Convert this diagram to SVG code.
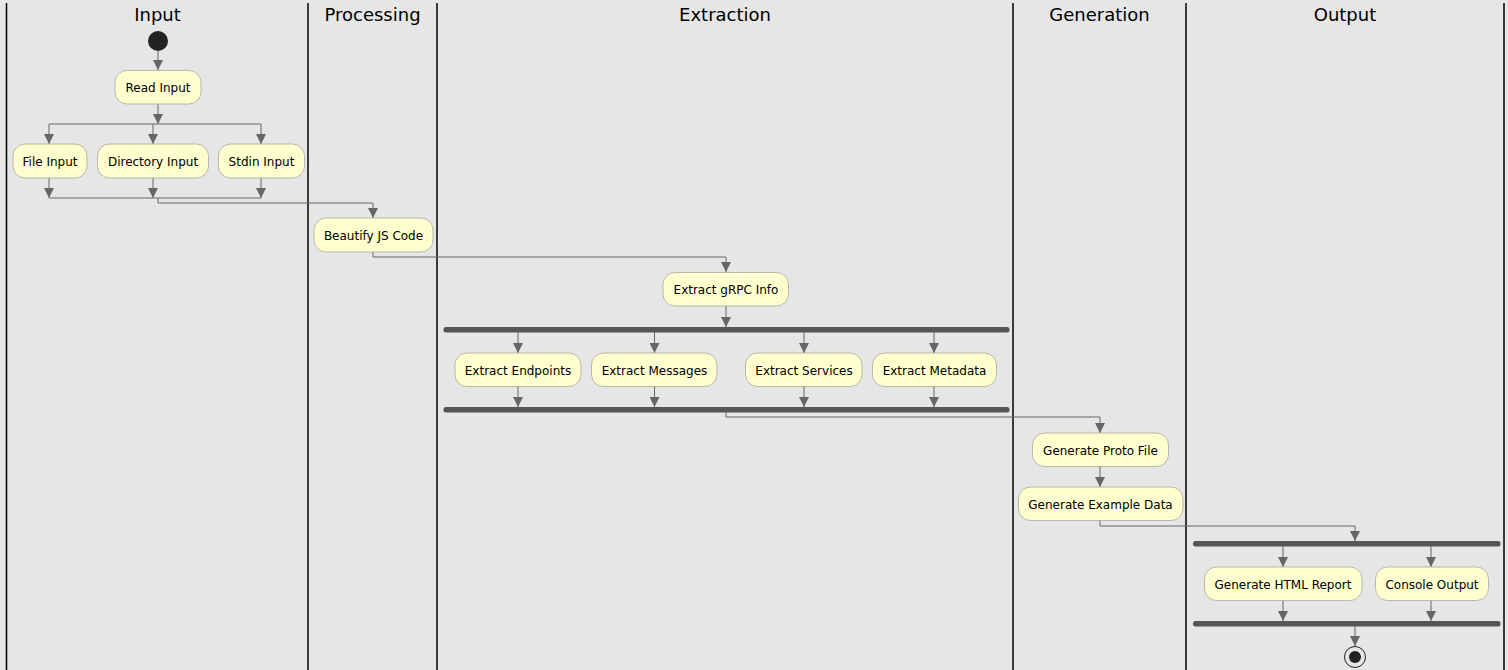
<svg xmlns="http://www.w3.org/2000/svg" width="1508" height="670" viewBox="0 0 1508 670">
<defs>
<style>
.lane{stroke:#000;stroke-width:1.5;fill:none}
.title{font-family:"DejaVu Sans",sans-serif;font-size:18px;fill:#000;text-anchor:middle}
.box{fill:#FEFECE;stroke:#A8A8A0;stroke-width:0.8}
.lbl{font-family:"DejaVu Sans",sans-serif;font-size:12px;fill:#000;text-anchor:middle}
.edge{stroke:#666;stroke-width:1;fill:none}
.bar{fill:#555}
</style>
<marker id="ah" viewBox="0 0 10 10" refX="10" refY="5" markerWidth="10" markerHeight="10" markerUnits="userSpaceOnUse" orient="auto">
<path d="M0,0 L10,5 L0,10 Z" fill="#666"/>
</marker>
</defs>
<rect width="1508" height="670" fill="#E6E6E6"/>
<g id="lanes">
<line class="lane" x1="6.5" y1="3" x2="6.5" y2="670"/>
<line class="lane" x1="308" y1="3" x2="308" y2="670"/>
<line class="lane" x1="437" y1="3" x2="437" y2="670"/>
<line class="lane" x1="1013" y1="3" x2="1013" y2="670"/>
<line class="lane" x1="1186" y1="3" x2="1186" y2="670"/>
<line class="lane" x1="1504" y1="3" x2="1504" y2="670"/>
<text class="title" x="157.5" y="21">Input</text>
<text class="title" x="372.5" y="21">Processing</text>
<text class="title" x="725" y="21">Extraction</text>
<text class="title" x="1099.5" y="21">Generation</text>
<text class="title" x="1345" y="21">Output</text>
</g>
<g id="connectors">
<path class="edge" marker-end="url(#ah)" d="M158,51 V70"/>
<path class="edge" marker-end="url(#ah)" d="M158,104 V124"/>
<path class="edge" d="M49,124 H261"/>
<path class="edge" marker-end="url(#ah)" d="M49,124 V144"/>
<path class="edge" marker-end="url(#ah)" d="M153,124 V144"/>
<path class="edge" marker-end="url(#ah)" d="M261,124 V144"/>
<path class="edge" marker-end="url(#ah)" d="M49,178 V198"/>
<path class="edge" marker-end="url(#ah)" d="M153,178 V198"/>
<path class="edge" marker-end="url(#ah)" d="M261,178 V198"/>
<path class="edge" d="M49,198 H261"/>
<path class="edge" marker-end="url(#ah)" d="M158,198 V203 H373 V218"/>
<path class="edge" marker-end="url(#ah)" d="M373,252 V257 H726 V272"/>
<path class="edge" marker-end="url(#ah)" d="M726,306 V327"/>
<path class="edge" marker-end="url(#ah)" d="M518,332 V353"/>
<path class="edge" marker-end="url(#ah)" d="M654.5,332 V353"/>
<path class="edge" marker-end="url(#ah)" d="M804,332 V353"/>
<path class="edge" marker-end="url(#ah)" d="M934,332 V353"/>
<path class="edge" marker-end="url(#ah)" d="M518,386 V407"/>
<path class="edge" marker-end="url(#ah)" d="M654.5,386 V407"/>
<path class="edge" marker-end="url(#ah)" d="M804,386 V407"/>
<path class="edge" marker-end="url(#ah)" d="M934,386 V407"/>
<path class="edge" marker-end="url(#ah)" d="M726,412 V417 H1100 V433"/>
<path class="edge" marker-end="url(#ah)" d="M1100,466 V487"/>
<path class="edge" marker-end="url(#ah)" d="M1100,520 V526 H1355 V541"/>
<path class="edge" marker-end="url(#ah)" d="M1283,546 V567"/>
<path class="edge" marker-end="url(#ah)" d="M1431,546 V567"/>
<path class="edge" marker-end="url(#ah)" d="M1283,600 V621"/>
<path class="edge" marker-end="url(#ah)" d="M1431,600 V621"/>
<path class="edge" marker-end="url(#ah)" d="M1355,626 V646"/>
</g>
<g id="start"><circle cx="158" cy="41" r="10" fill="#222"/></g>
<g id="readInput"><rect class="box" x="115" y="70.5" width="86" height="33.5" rx="12"/><text class="lbl" x="158" y="92">Read Input</text></g>
<g id="fileInput"><rect class="box" x="13" y="144" width="74" height="34" rx="12"/><text class="lbl" x="50" y="165.5">File Input</text></g>
<g id="dirInput"><rect class="box" x="97.5" y="144" width="111" height="34" rx="12"/><text class="lbl" x="153" y="165.5">Directory Input</text></g>
<g id="stdinInput"><rect class="box" x="218.5" y="144" width="86" height="34" rx="12"/><text class="lbl" x="261.5" y="165.5">Stdin Input</text></g>
<g id="beautify"><rect class="box" x="314" y="218" width="119" height="34" rx="12"/><text class="lbl" x="373.5" y="239.5">Beautify JS Code</text></g>
<g id="grpcInfo"><rect class="box" x="663" y="272.5" width="125.5" height="33.5" rx="12"/><text class="lbl" x="726" y="294">Extract gRPC Info</text></g>
<g id="forkExtract"><rect class="bar" x="443.5" y="327" width="566" height="5.5" rx="2.5"/></g>
<g id="endpoints"><rect class="box" x="455" y="353" width="126" height="33.5" rx="12"/><text class="lbl" x="518" y="374.5">Extract Endpoints</text></g>
<g id="messages"><rect class="box" x="591.5" y="353" width="125.5" height="33.5" rx="12"/><text class="lbl" x="654.5" y="374.5">Extract Messages</text></g>
<g id="services"><rect class="box" x="745.5" y="353" width="116.5" height="33.5" rx="12"/><text class="lbl" x="804" y="374.5">Extract Services</text></g>
<g id="metadata"><rect class="box" x="872.5" y="353" width="124" height="33.5" rx="12"/><text class="lbl" x="934.5" y="374.5">Extract Metadata</text></g>
<g id="joinExtract"><rect class="bar" x="443.5" y="407" width="566" height="5.5" rx="2.5"/></g>
<g id="protoFile"><rect class="box" x="1032.5" y="433" width="136" height="33.5" rx="12"/><text class="lbl" x="1100.5" y="454.5">Generate Proto File</text></g>
<g id="exampleData"><rect class="box" x="1018.5" y="487" width="164.5" height="33.5" rx="12"/><text class="lbl" x="1100.5" y="508.5">Generate Example Data</text></g>
<g id="forkOutput"><rect class="bar" x="1193" y="541" width="307.5" height="5.5" rx="2.5"/></g>
<g id="htmlReport"><rect class="box" x="1204.5" y="567" width="157.5" height="33.5" rx="12"/><text class="lbl" x="1283" y="588.5">Generate HTML Report</text></g>
<g id="console"><rect class="box" x="1375.5" y="567" width="113" height="33.5" rx="12"/><text class="lbl" x="1432" y="588.5">Console Output</text></g>
<g id="joinOutput"><rect class="bar" x="1193" y="621" width="307.5" height="5.5" rx="2.5"/></g>
<g id="end"><circle cx="1355" cy="657" r="10.5" fill="none" stroke="#222" stroke-width="1"/><circle cx="1355" cy="657" r="6" fill="#222"/></g>
</svg>
